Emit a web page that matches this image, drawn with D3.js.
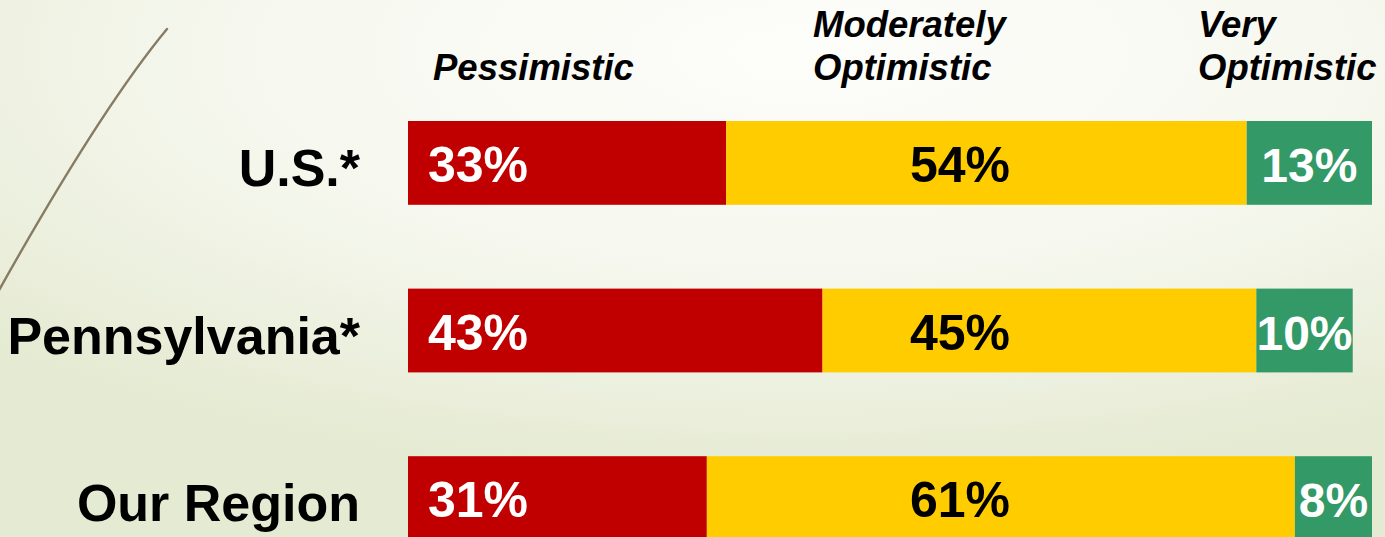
<!DOCTYPE html>
<html>
<head>
<meta charset="utf-8">
<script src="https://cdn.jsdelivr.net/npm/d3@7"></script>
<style>
  html, body { margin: 0; padding: 0; overflow: hidden; }
  body { width: 1385px; height: 537px; }
  text { font-family: "Liberation Sans", Arial, sans-serif; font-weight: bold; }
</style>
</head>
<body>
<svg id="chart" width="1385" height="537"></svg>
<script>
// Outlook survey: share of respondents per outlook, by geography
const categories = ["U.S.*", "Pennsylvania*", "Our Region"];
const seriesNames = ["Pessimistic", "Moderately Optimistic", "Very Optimistic"];
const pessimistic = [33, 43, 31];
const moderatelyOptimistic = [54, 45, 61];
const veryOptimistic = [13, 10, 8];

const seriesHeaders = [["Pessimistic"], ["Moderately", "Optimistic"], ["Very", "Optimistic"]];
const seriesColors = ["#c00000", "#ffcc00", "#339966"];
const labelColors = ["#ffffff", "#000000", "#ffffff"];

const W = 1385, H = 537;
const svg = d3.select("#chart");

// slide background
const defs = svg.append("defs");
const bg = defs.append("radialGradient").attr("id", "bg")
  .attr("cx", 0.58).attr("cy", 0.1).attr("r", 0.8);
bg.append("stop").attr("offset", 0).attr("stop-color", "#fdfdfa");
bg.append("stop").attr("offset", 0.5).attr("stop-color", "#f6f8ef");
bg.append("stop").attr("offset", 1).attr("stop-color", "#e5ead2");
svg.append("rect").attr("width", W).attr("height", H).attr("fill", "url(#bg)");

// decorative stem
svg.append("path")
  .attr("d", "M167,29 Q100,110 -2,292")
  .attr("fill", "none").attr("stroke", "#877c63").attr("stroke-width", 2.4)
  .attr("stroke-linecap", "round");

// table of stacked segments
const rows = categories.map((c, i) => ({
  category: c,
  values: [pessimistic[i], moderatelyOptimistic[i], veryOptimistic[i]]
}));

const x = d3.scaleLinear().domain([0, 100]).range([408, 1372]);
const y = d3.scaleBand().domain(categories).range([121, 540]).paddingInner(0.5).paddingOuter(0);

const stack = d3.stack().keys([0, 1, 2]).value((d, k) => d.values[k]);
const layers = stack(rows);

const g = svg.append("g");
layers.forEach((layer, k) => {
  g.selectAll(null).data(layer).enter().append("rect")
    .attr("x", d => x(d[0]))
    .attr("y", d => y(d.data.category))
    .attr("width", d => x(d[1]) - x(d[0]))
    .attr("height", y.bandwidth())
    .attr("fill", seriesColors[k]);
});

// value labels
const labelY = d => y(d.data.category) + y.bandwidth() / 2 + 19;
g.selectAll(null).data(layers[0]).enter().append("text")
  .attr("x", d => x(d[0]) + 20).attr("y", labelY)
  .attr("font-size", 50).attr("fill", labelColors[0])
  .text(d => d.data.values[0] + "%");
g.selectAll(null).data(layers[1]).enter().append("text")
  .attr("x", 960).attr("y", labelY).attr("text-anchor", "middle")
  .attr("font-size", 50).attr("fill", labelColors[1])
  .text(d => d.data.values[1] + "%");
g.selectAll(null).data(layers[2]).enter().append("text")
  .attr("x", d => (x(d[0]) + x(d[1])) / 2).attr("y", labelY).attr("text-anchor", "middle")
  .attr("font-size", 48).attr("fill", labelColors[2])
  .text(d => d.data.values[2] + "%");

// category labels
svg.append("g").selectAll("text").data(categories).enter().append("text")
  .attr("x", 360)
  .attr("y", d => y(d) + y.bandwidth() / 2 + 23)
  .attr("text-anchor", "end").attr("font-size", 52).attr("fill", "#000")
  .text(d => d);

// series headers
const headerX = [433, 813, 1198];
const hdr = svg.append("g").selectAll("text").data(seriesHeaders).enter().append("text")
  .attr("x", (d, i) => headerX[i])
  .attr("y", d => d.length === 1 ? 80 : 37)
  .attr("font-size", 36.5).attr("font-style", "italic").attr("fill", "#000")
  .attr("aria-label", (d, i) => seriesNames[i]);
hdr.each(function(lines, i) {
  d3.select(this).selectAll("tspan").data(lines).enter().append("tspan")
    .attr("x", headerX[i]).attr("dy", (l, j) => j === 0 ? 0 : 43)
    .text(l => l);
});
</script>
</body>
</html>
